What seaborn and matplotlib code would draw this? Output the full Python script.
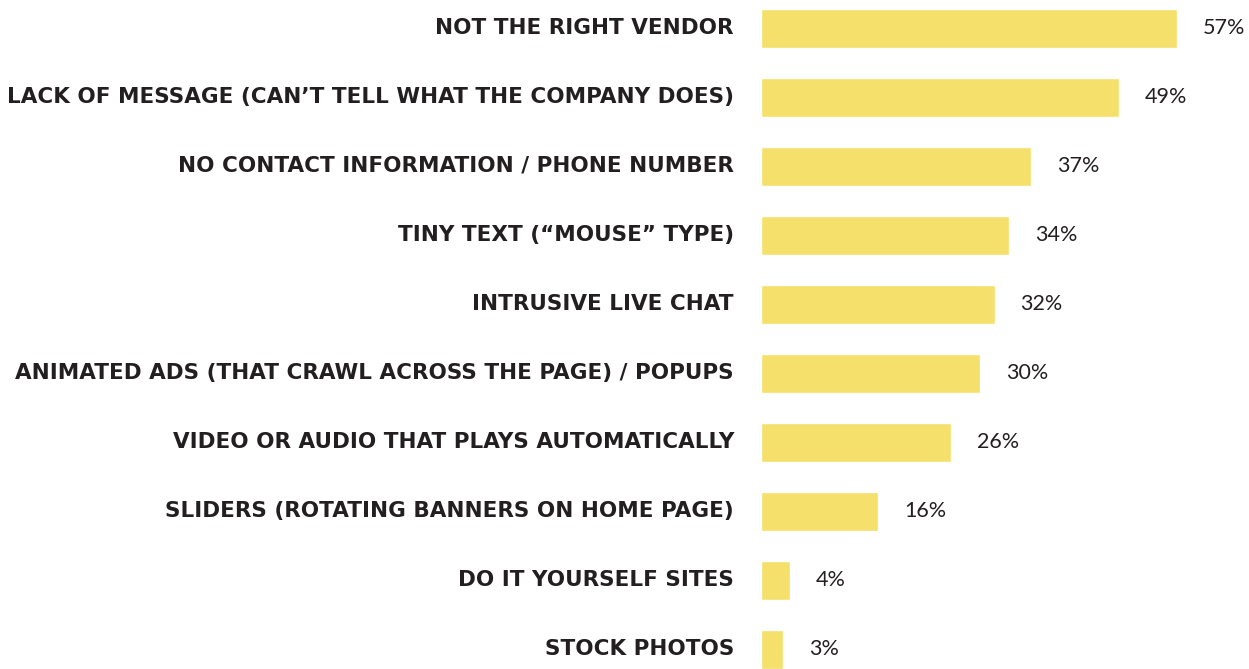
import matplotlib
matplotlib.use("Agg")
import matplotlib.pyplot as plt
import matplotlib.transforms as mtransforms
import seaborn as sns
import pandas as pd

# values
reasons = [
    "NOT THE RIGHT VENDOR",
    "LACK OF MESSAGE (CAN\u2019T TELL WHAT THE COMPANY DOES)",
    "NO CONTACT INFORMATION / PHONE NUMBER",
    "TINY TEXT (\u201cMOUSE\u201d TYPE)",
    "INTRUSIVE LIVE CHAT",
    "ANIMATED ADS (THAT CRAWL ACROSS THE PAGE) / POPUPS",
    "VIDEO OR AUDIO THAT PLAYS AUTOMATICALLY",
    "SLIDERS (ROTATING BANNERS ON HOME PAGE)",
    "DO IT YOURSELF SITES",
    "STOCK PHOTOS",
]
percent = [57, 49, 37, 34, 32, 30, 26, 16, 4, 3]

df = pd.DataFrame({"reason": reasons, "percent": percent})

sns.set_theme(style="white")
plt.rcParams["font.family"] = ["DejaVu Sans"]

fig = plt.figure(figsize=(12.49, 6.69), dpi=100)
ax = fig.add_axes([761 / 1249, 0, 488 / 1249, 1])

bar_color = "#f5e06b"
text_color = "#231f20"

sns.barplot(data=df, x="percent", y="reason", orient="h", color=bar_color,
            width=0.565, saturation=1, ax=ax)

ax.set_xlim(0, 488 / 7.3)
ax.set_ylim(9.285, -0.41)
ax.set_xlabel("")
ax.set_ylabel("")
ax.set_xticks([])
sns.despine(ax=ax, left=True, bottom=True)

# nudge category labels up a little
shift = mtransforms.ScaledTranslation(0, 2 / 72, fig.dpi_scale_trans)
ax.tick_params(axis="y", length=0, pad=19.5)
for lab in ax.get_yticklabels():
    lab.set_fontsize(15.5)
    lab.set_fontweight("bold")
    lab.set_color(text_color)
    lab.set_transform(lab.get_transform() + shift)

for i, v in enumerate(percent):
    ax.text(v + 26 / 7.3, i, f"{v}%", va="center", ha="left",
            fontsize=15.5, family="Lato", fontweight="normal", color=text_color)

fig.savefig("out.png", dpi=100)
